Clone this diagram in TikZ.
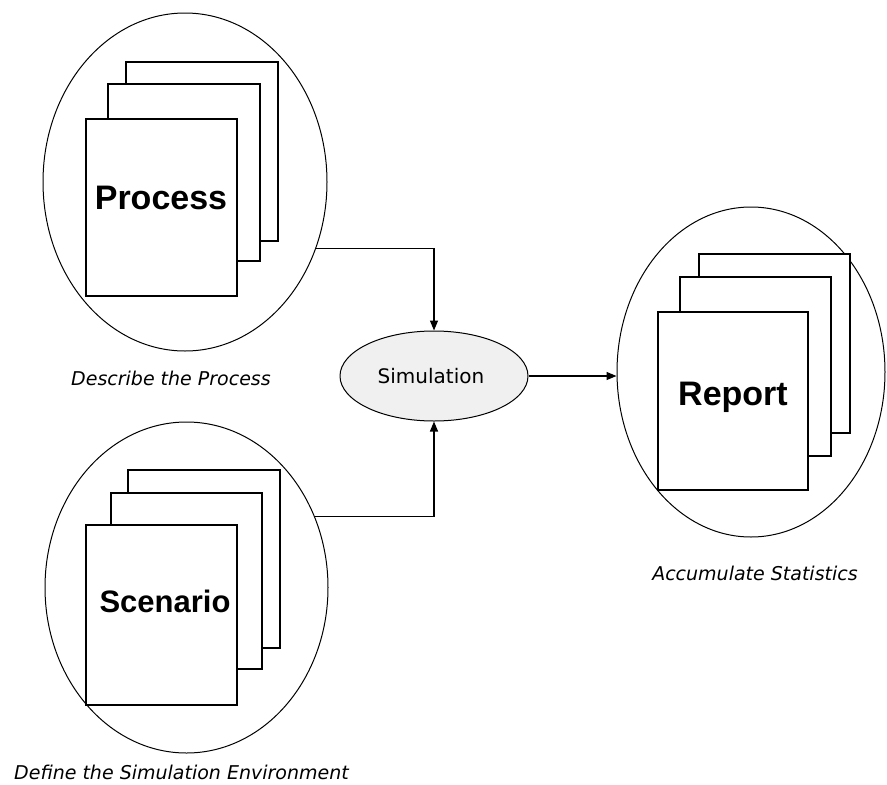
\documentclass[tikz,border=0pt]{standalone}
\usepackage{fontspec}
\setmainfont{Liberation Sans}
\newfontfamily\labelfont{DejaVu Sans}
\usetikzlibrary{arrows.meta,shapes.geometric}
\tikzset{
  bubble/.style={draw=black, line width=1pt, ellipse, inner sep=0pt},
  page/.style={draw=black, fill=white, line width=1.6pt, inner sep=0pt, anchor=north west},
  title/.style={font=\fontsize{34}{40}\selectfont\bfseries, anchor=base, inner sep=0pt},
  caption/.style={font=\labelfont\itshape\fontsize{19}{22}\selectfont, anchor=base, inner sep=0pt},
  flow/.style={draw=black, line width=1.3pt, -{Triangle[length=10pt,width=8pt]}},
}
\begin{document}
\begin{tikzpicture}[x=1pt,y=-1pt]
\useasboundingbox (0,0) rectangle (887,785);
\fill[white] (0,0) rectangle (887,785);

% ellipses
\node[bubble, minimum width=284pt, minimum height=338pt] (proc) at (185,182) {};
\node[bubble, minimum width=283pt, minimum height=331pt] (scen) at (186.5,587.5) {};
\node[bubble, minimum width=268pt, minimum height=330pt] (rep) at (751,372) {};
\node[bubble, fill=black!6, minimum width=188pt, minimum height=90pt] (sim) at (434,376) {};

% Process pages
\node[page, minimum width=152pt, minimum height=179pt] (pb) at (125,61) {};
\node[page, minimum width=152pt, minimum height=177pt] (pm) at (107,83) {};
\node[page, minimum width=151pt, minimum height=177pt] (pf) at (85,118) {};
% Scenario pages
\node[page, minimum width=152pt, minimum height=178pt] (sb) at (127,469) {};
\node[page, minimum width=151pt, minimum height=176pt] (sm) at (110,492) {};
\node[page, minimum width=151pt, minimum height=180pt] (sf) at (85,524) {};
% Report pages
\node[page, minimum width=151pt, minimum height=179pt] (rb) at (698,253) {};
\node[page, minimum width=151pt, minimum height=179pt] (rm) at (679,276) {};
\node[page, minimum width=150pt, minimum height=178pt] (rf) at (657,311) {};

% titles
\node[title] (tproc) at (161,209) {Process};
\node[title] (trep) at (733,405) {Report};
\node[title, font=\fontsize{31}{36}\selectfont\bfseries] (tscen) at (165,612) {Scenario};
\node[anchor=base, inner sep=0pt, font=\labelfont\fontsize{20}{24}\selectfont] (tsim) at (431,383) {Simulation};

% captions
\node[caption] (cproc) at (171,385) {Describe the Process};
\node[caption] (crep) at (755,580) {Accumulate Statistics};
\node[caption, anchor=base west] (cscen) at (14,779) {Define the Simulation Environment};

% connectors
\draw[flow] (proc.-27.6) -| (sim.north);
\draw[flow] (scen.29.3) -| (sim.south);
\draw[flow] (sim.east) -- (sim.east -| rep.west);
\end{tikzpicture}
\end{document}
